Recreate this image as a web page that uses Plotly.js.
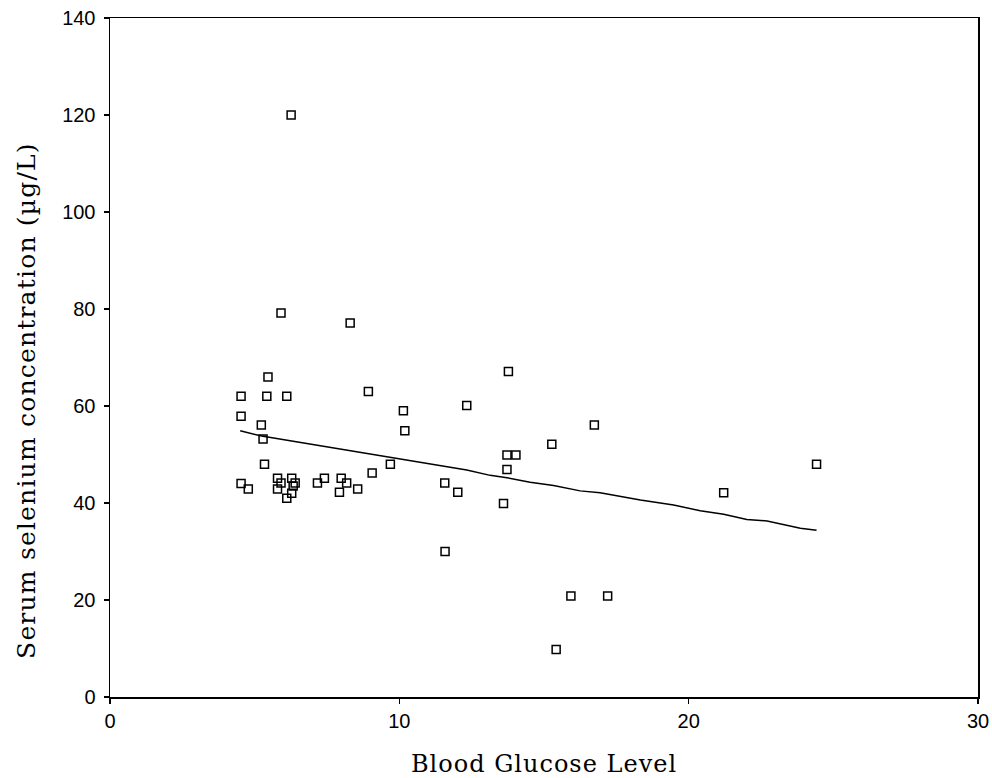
<!DOCTYPE html>
<html>
<head>
<meta charset="utf-8">
<script src="https://cdn.plot.ly/plotly-3.0.1.min.js"></script>
<style>
html,body{margin:0;padding:0;background:#fff;}
.xtitle{letter-spacing:1px;}
.annotation-text{letter-spacing:1.2px;}
</style>
</head>
<body>
<div id="chart" style="width:992px;height:778px;"></div>
<script>
// Observed data: blood glucose (x) vs serum selenium (y)
const glucose = [6.26,5.91,8.30,8.93,5.46,4.53,5.42,6.11,4.53,5.23,5.29,5.34,4.53,4.78,5.79,5.79,5.91,6.28,6.28,6.40,6.33,6.11,7.17,7.41,7.99,8.18,7.93,8.56,9.06,9.69,10.14,10.19,12.33,11.57,12.02,13.60,13.72,14.03,13.72,15.27,13.77,16.74,11.58,15.93,17.20,15.42,21.21,24.42];
const selenium = [120.0,79.2,77.1,63.0,66.0,62.0,62.0,62.0,57.9,56.1,53.2,48.0,44.0,42.9,45.1,42.9,44.1,45.1,42.0,44.1,43.5,41.0,44.1,45.1,45.1,44.1,42.2,42.9,46.2,48.0,59.0,54.9,60.1,44.1,42.2,39.9,49.9,49.9,46.9,52.1,67.1,56.1,30.0,20.8,20.8,9.8,42.1,48.0];
// Fitted (smoothed) line
const fitX = [4.50,5.24,6.28,7.78,9.16,10.09,11.58,12.33,13.14,13.72,14.52,15.33,16.25,16.94,18.33,19.48,20.40,21.21,22.01,22.71,23.86,24.42];
const fitY = [54.9,53.8,52.8,51.3,49.9,49.1,47.6,46.8,45.7,45.2,44.3,43.6,42.5,42.1,40.6,39.6,38.4,37.7,36.6,36.3,34.8,34.4];
const xTicks = [0,10,20,30];
const yTicks = [0,20,40,60,80,100,120,140];
const xTitle = 'Blood Glucose Level';
const yTitle = 'Serum selenium concentration (µg/L)';

const traces = [
  {x: fitX, y: fitY, type: 'scatter', mode: 'lines', line: {color: '#000', width: 1.5}, hoverinfo: 'skip'},
  {x: glucose, y: selenium, type: 'scatter', mode: 'markers',
   marker: {symbol: 'square-open', size: 8, color: '#000', line: {width: 1.5, color: '#000'}}}
];

const axisFont = {family: 'Liberation Sans, Arial, sans-serif', size: 20, color: '#000'};
const titleFont = {family: 'DejaVu Serif, serif', size: 24, color: '#000'};

const layout = {
  width: 992, height: 778,
  margin: {l: 110, r: 14, t: 18, b: 81},
  paper_bgcolor: '#fff', plot_bgcolor: '#fff',
  showlegend: false,
  xaxis: {
    range: [0, 30], tickvals: xTicks, ticktext: xTicks.map(String),
    showgrid: false, zeroline: false,
    showline: true, linecolor: '#000', linewidth: 1.5, mirror: true,
    ticks: 'outside', ticklen: 5, tickwidth: 1.5, tickcolor: '#000',
    tickfont: axisFont, automargin: false,
    title: {text: xTitle, font: titleFont, standoff: 24}
  },
  yaxis: {
    range: [0, 140], tickvals: yTicks, ticktext: yTicks.map(String),
    showgrid: false, zeroline: false,
    showline: true, linecolor: '#000', linewidth: 1.5, mirror: true,
    ticks: 'outside', ticklen: 5, tickwidth: 1.5, tickcolor: '#000',
    tickfont: axisFont, automargin: false, ticklabelstandoff: 4,
    title: {text: ''}
  },
  annotations: [{
    text: yTitle, textangle: -90, showarrow: false,
    xref: 'paper', yref: 'paper', x: -0.096, y: 0.437,
    xanchor: 'center', yanchor: 'middle',
    font: {family: 'DejaVu Serif, serif', size: 25, color: '#000'}
  }]
};

Plotly.newPlot('chart', traces, layout, {displayModeBar: false, staticPlot: true});
</script>
</body>
</html>
